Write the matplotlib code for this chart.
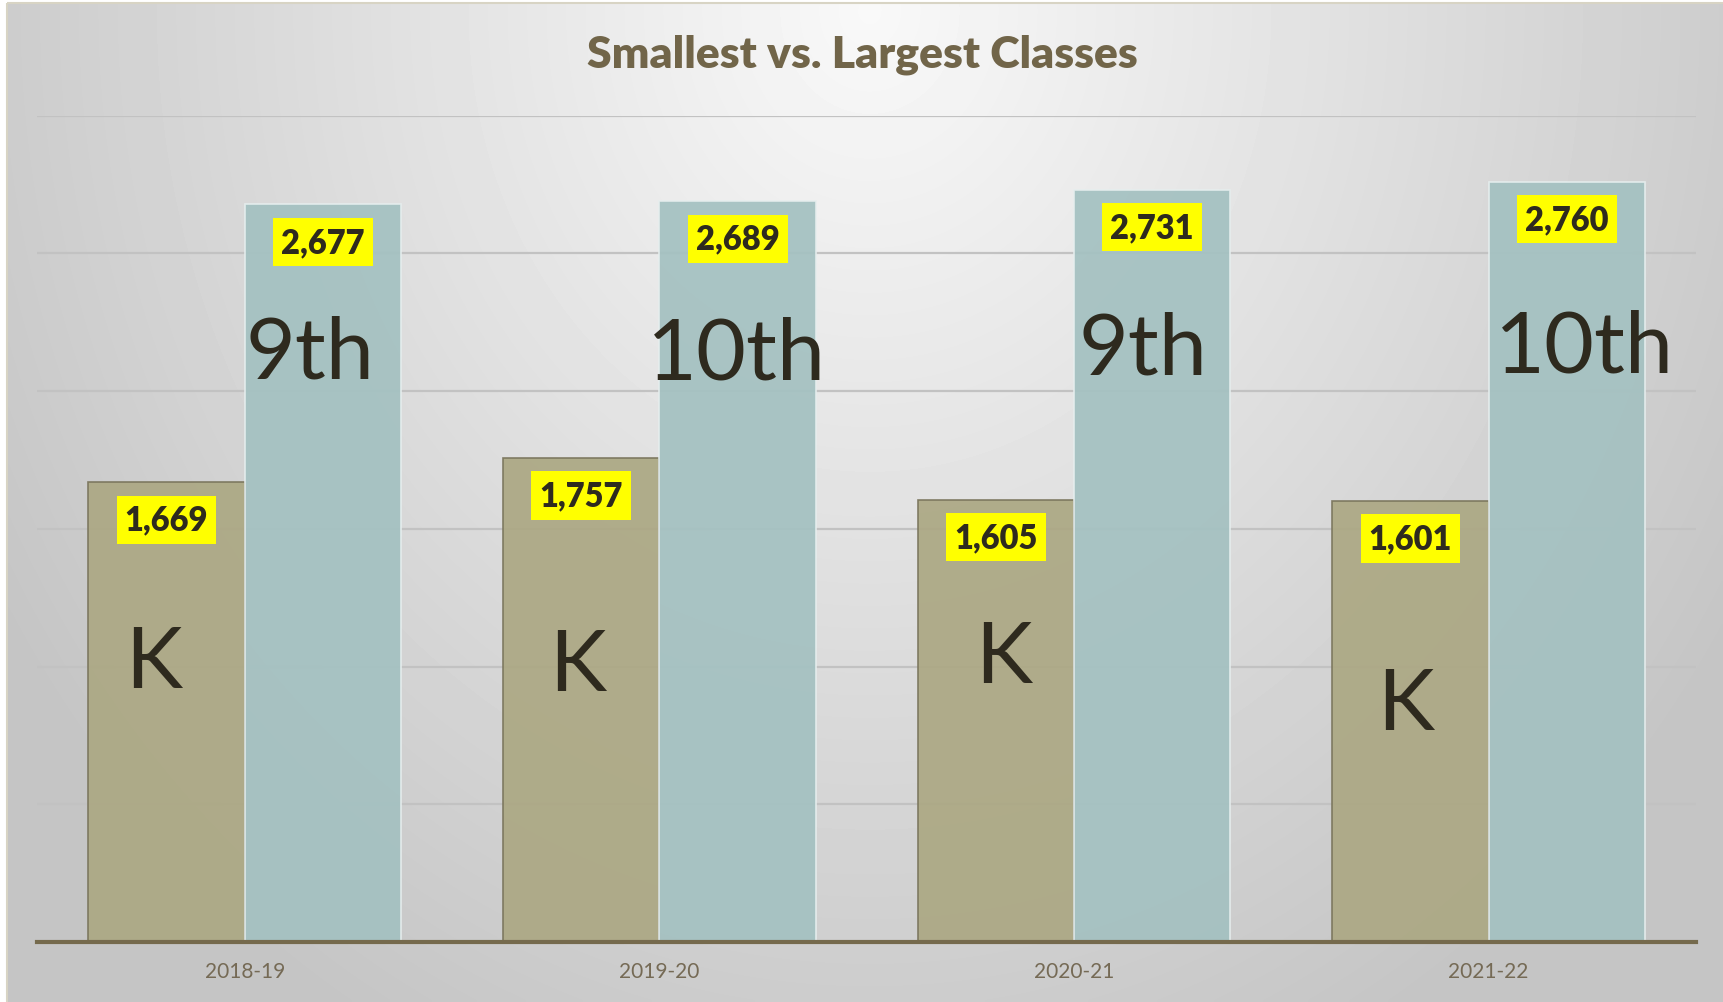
import numpy as np
import matplotlib.pyplot as plt
from matplotlib.patches import Rectangle

# data
years = ['2018-19', '2019-20', '2020-21', '2021-22']
smallest = [1669, 1757, 1605, 1601]
largest = [2677, 2689, 2731, 2760]
small_names = ['K', 'K', 'K', 'K']
large_names = ['9th', '10th', '9th', '10th']

W, H = 1724, 1003
fig = plt.figure(figsize=(W / 100, H / 100), dpi=100, facecolor='white')

# background with radial shading
bg = fig.add_axes([0, 0, 1, 1])
bg.set_xlim(0, W)
bg.set_ylim(H, 0)
bg.axis('off')
xx, yy = np.meshgrid(np.linspace(7, W, 400), np.linspace(4, H, 240))
r = np.sqrt(((xx - 870) / 1000) ** 2 + ((yy - 10) / 1150) ** 2)
shade = np.clip(0.975 - 0.2 * r, 0.77, 1)
bg.imshow(shade, cmap='gray', vmin=0, vmax=1, extent=(7, W, H, 4),
          aspect='auto', interpolation='bilinear')
bg.add_patch(Rectangle((7, 4), W, H, fill=False, edgecolor='#d8d4c4', lw=1.5))

ax = fig.add_axes([37.4 / W, (H - 943) / H, (1696 - 37.4) / W, (943 - 116.5) / H])
ax.patch.set_alpha(0)
ax.set_xlim(-0.5, 3.5)
ax.set_ylim(0, 3000)

x = np.arange(len(years))
bw = 0.377
ax.set_yticks(np.arange(500, 3001, 500))
ax.yaxis.grid(True, color='#c2c2c2', lw=1.6)
ax.set_axisbelow(True)

b1 = ax.bar(x - bw / 2, smallest, bw, color='#aca884', alpha=0.93,
            edgecolor='#7a755c', lw=1.2, zorder=2)
b2 = ax.bar(x + bw / 2, largest, bw, color='#a4c1c1', alpha=0.93,
            edgecolor='#e6eeee', lw=1.2, zorder=2)

for bars in (b1, b2):
    for rect in bars:
        v = rect.get_height()
        ax.annotate(f'{v:,}', (rect.get_x() + rect.get_width() / 2, v),
                    xytext=(0, -27), textcoords='offset points',
                    ha='center', va='center', fontsize=23.5, fontweight='heavy',
                    family='Lato', color='#2e2a1e', zorder=4,
                    bbox=dict(boxstyle='square,pad=0.25', fc='#ffff00', ec='none'))

# big grade labels placed by hand, as in the source
small_pos = [(-0.219, 927), (0.802, 916), (1.83, 945), (2.80, 774)]
large_pos = [(0.158, 2050), (1.185, 2046), (2.167, 2064), (3.231, 2071)]
for name, (px, py) in zip(small_names + large_names, small_pos + large_pos):
    ax.text(px, py, name, ha='center', va='baseline', fontsize=62,
            family='Lato', color='#2e2a1e', zorder=5)

ax.set_xticks(x)
ax.set_xticklabels(years, fontsize=15, color='#756a55', family='Lato')
ax.tick_params(axis='x', length=0, pad=14)
ax.tick_params(axis='y', length=0, labelleft=False)
for s in ('top', 'right', 'left'):
    ax.spines[s].set_visible(False)
ax.spines['bottom'].set_color('#756a4d')
ax.spines['bottom'].set_linewidth(3)
ax.spines['bottom'].set_zorder(3)

fig.text(0.5, 1 - 55 / H, 'Smallest vs. Largest Classes', ha='center', va='center',
         fontsize=32, fontweight='heavy', family='Lato', color='#716549')

fig.savefig('out.png', dpi=100)
